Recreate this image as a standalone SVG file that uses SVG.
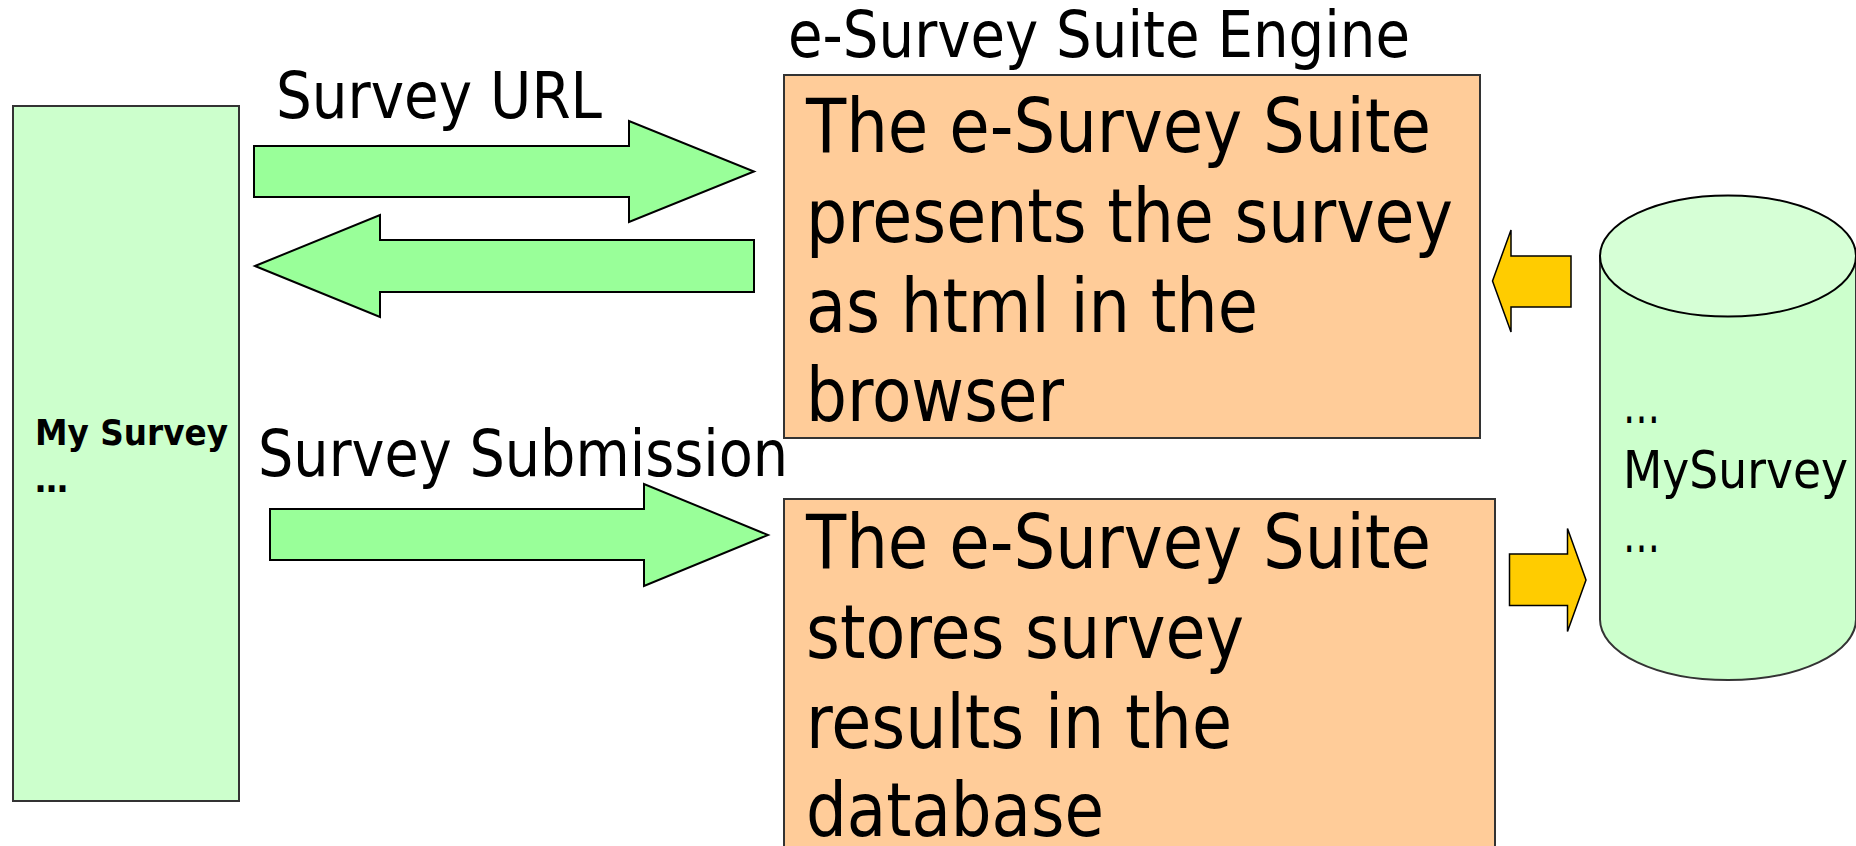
<svg xmlns="http://www.w3.org/2000/svg" width="1856" height="846" viewBox="0 0 1856 846">
<style>
text{font-family:"DejaVu Sans Condensed","DejaVu Sans",sans-serif;fill:#000}
.lbl{font-size:64px}
.big{font-size:75px}
.db{font-size:52px}
.bold{font-size:35px;font-weight:bold}
.box{fill:#FFCC99;stroke:#333;stroke-width:2}
.green{fill:#99FF99;stroke:#000;stroke-width:2;stroke-linejoin:miter}
.yellow{fill:#FFCC00;stroke:#000;stroke-width:1.5}
.client{fill:#CCFFCC;stroke:#333;stroke-width:2}
</style>
<rect width="1856" height="846" fill="#fff"/>
<g id="client">
<rect class="client" x="13" y="106" width="226" height="695"/>
<text class="bold" x="35" y="445" textLength="193" lengthAdjust="spacingAndGlyphs">My Survey</text>
<text class="bold" x="35" y="492" textLength="33" lengthAdjust="spacingAndGlyphs">…</text>
</g>
<g id="engine-title">
<text class="lbl" x="788" y="57" textLength="622" lengthAdjust="spacingAndGlyphs">e-Survey Suite Engine</text>
</g>
<g id="present">
<rect class="box" x="784" y="75" width="696" height="363"/>
<text class="big" x="806" y="152" textLength="625" lengthAdjust="spacingAndGlyphs">The e-Survey Suite</text>
<text class="big" x="806" y="242" textLength="647" lengthAdjust="spacingAndGlyphs">presents the survey</text>
<text class="big" x="806" y="332" textLength="452" lengthAdjust="spacingAndGlyphs">as html in the</text>
<text class="big" x="806" y="421" textLength="258" lengthAdjust="spacingAndGlyphs">browser</text>
</g>
<g id="store">
<rect class="box" x="784" y="499" width="711" height="360"/>
<text class="big" x="806" y="568" textLength="625" lengthAdjust="spacingAndGlyphs">The e-Survey Suite</text>
<text class="big" x="806" y="658" textLength="438" lengthAdjust="spacingAndGlyphs">stores survey</text>
<text class="big" x="806" y="748" textLength="426" lengthAdjust="spacingAndGlyphs">results in the</text>
<text class="big" x="806" y="836" textLength="298" lengthAdjust="spacingAndGlyphs">database</text>
</g>
<g id="database">
<path d="M1600,256 L1600,619.5 A128,60.5 0 0 0 1856,619.5 L1856,256 Z" fill="#CCFFCC" stroke="#333" stroke-width="2"/>
<ellipse cx="1728" cy="256" rx="128" ry="60.5" fill="#D6FFD6" stroke="#000" stroke-width="2"/>
<text class="db" x="1623" y="423" textLength="37" lengthAdjust="spacingAndGlyphs">…</text>
<text class="db" x="1623" y="488" textLength="225" lengthAdjust="spacingAndGlyphs">MySurvey</text>
<text class="db" x="1623" y="552" textLength="37" lengthAdjust="spacingAndGlyphs">…</text>
</g>
<g id="connectors">
<polygon class="green" points="254,146 629,146 629,121 754,171.5 629,222 629,197 254,197"/>
<polygon class="green" points="754,240 380,240 380,215 255,266 380,317 380,292 754,292"/>
<polygon class="green" points="270,509 644,509 644,484 768,535 644,586 644,560 270,560"/>
<polygon class="yellow" points="1571,256 1511,256 1511,230 1492.5,281 1511,332 1511,307 1571,307"/>
<polygon class="yellow" points="1509.5,554 1567.5,554 1567.5,528.5 1586,580 1567.5,631.5 1567.5,605.5 1509.5,605.5"/>
<text class="lbl" x="276" y="118" textLength="326" lengthAdjust="spacingAndGlyphs">Survey URL</text>
<text class="lbl" x="258" y="476" textLength="530" lengthAdjust="spacingAndGlyphs">Survey Submission</text>
</g>
</svg>
